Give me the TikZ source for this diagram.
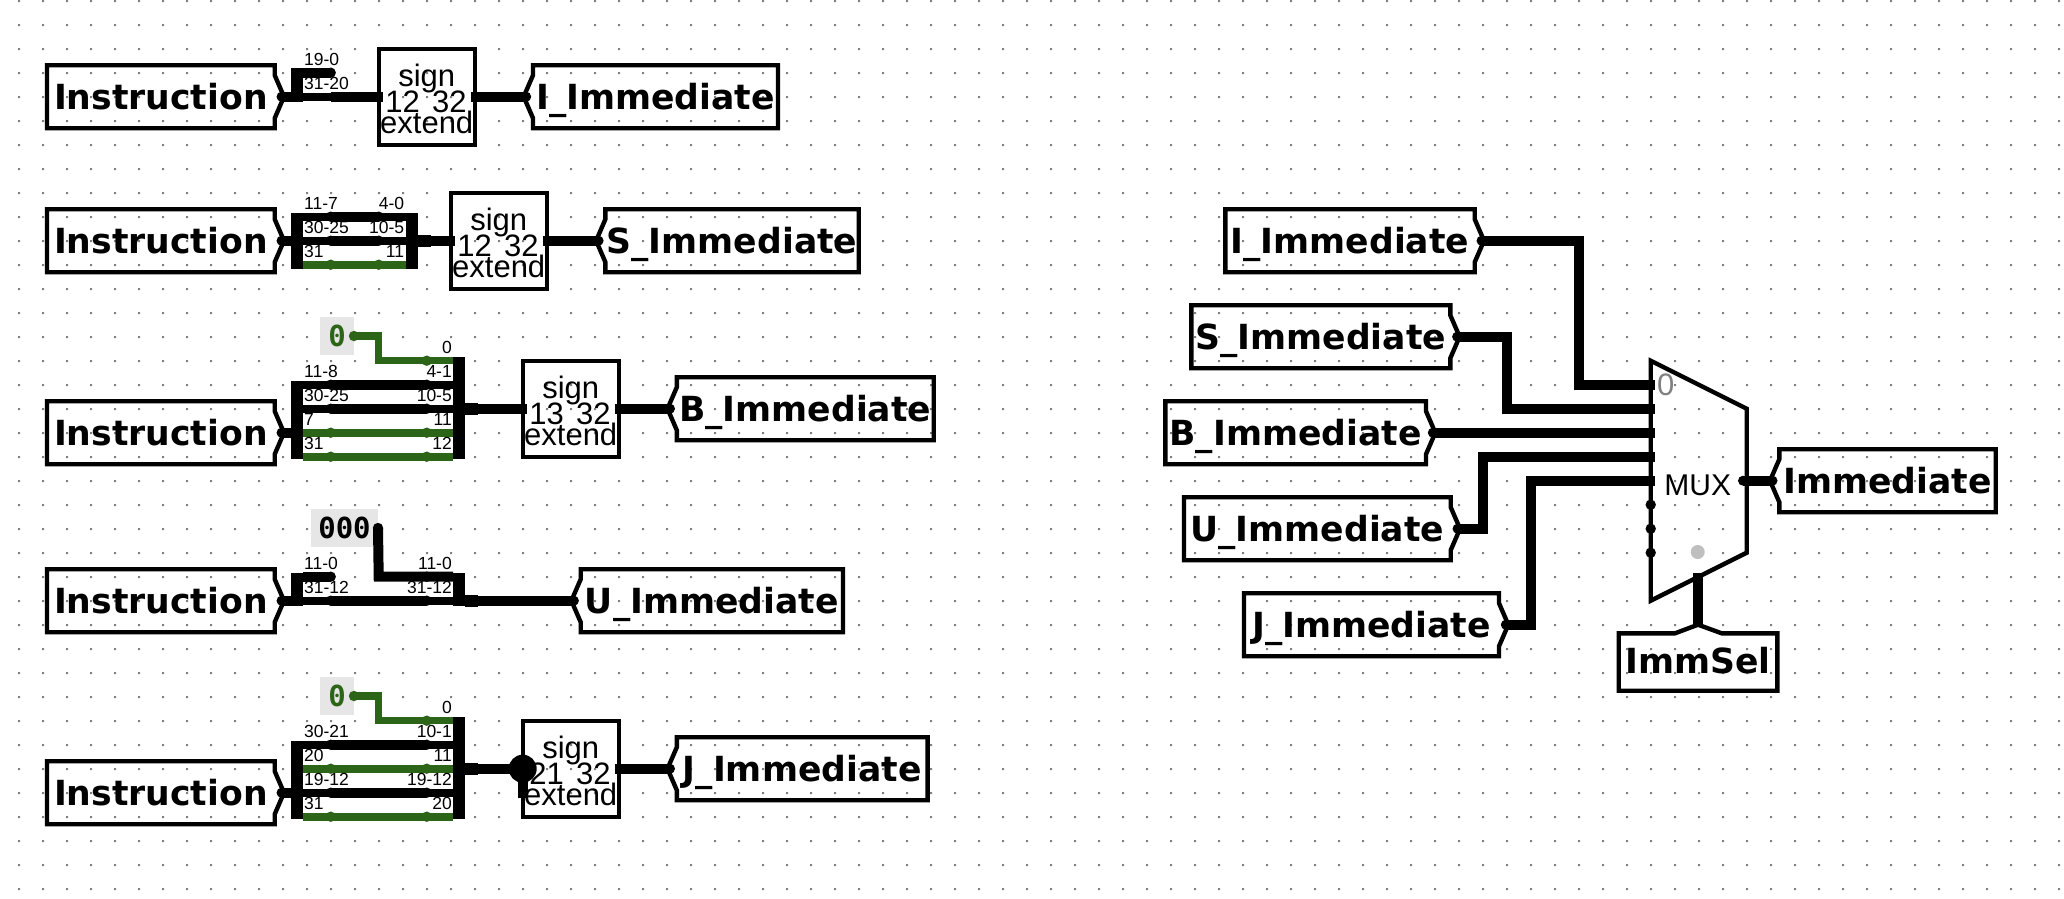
\documentclass[tikz,border=0pt]{standalone}
\usepackage{fontspec}
\setmainfont{Liberation Sans}
\newfontfamily\tagfamily{DejaVu Sans}
\newfontfamily\constfamily{DejaVu Sans Mono}
\definecolor{wiregreen}{HTML}{2C6418}
\definecolor{griddot}{HTML}{808080}
\definecolor{constgray}{HTML}{E6E6E6}
\tikzset{
  wire/.style={line width=10pt,color=black},
  gwire/.style={line width=7.5pt,color=wiregreen},
  stub/.style={line width=8pt},
  stubout/.style={line width=12pt},
  tagline/.style={line width=4.4pt,line join=miter},
  tagbox/.style={inner sep=0pt,outer sep=0pt,minimum height=63pt,text height=26pt,text depth=0pt,
    font=\tagfamily\bfseries\fontsize{34.6}{40}\selectfont},
  signbox/.style={draw,line width=4.4pt,inner sep=0pt,outer sep=0pt,minimum width=96pt,minimum height=96pt},
  signtxt/.style={anchor=base,inner sep=0pt,font=\fontsize{31}{36}\selectfont},
  splitbar/.style={fill=black,inner sep=0pt,outer sep=0pt,minimum width=12pt},
  bitl/.style={inner sep=0pt,font=\fontsize{17.5}{20}\selectfont},
  constbox/.style={fill=constgray,inner sep=0pt,outer sep=0pt,minimum height=38pt,
    font=\constfamily\bfseries\fontsize{29}{32}\selectfont},
}
\newcommand{\tagright}[5]{%
  \node[tagbox,minimum width={#3pt-#2pt}] (#1) at ({(#2+#3)/2},#4) {#5};
  \coordinate (#1tip) at ([xshift=9.3pt]#1.east);
  \draw[tagline] (#1.north west) -- (#1.north east) -- ++(0,10) -- (#1tip) -- ++(-9.3,21.5) -- (#1.south east) -- (#1.south west) -- cycle;
  \fill ([xshift=-2.5pt]#1tip) circle (5);
}
\newcommand{\tagleft}[5]{%
  \node[tagbox,minimum width={#3pt-#2pt}] (#1) at ({(#2+#3)/2},#4) {#5};
  \coordinate (#1tip) at ([xshift=-9.3pt]#1.west);
  \draw[tagline] (#1.north east) -- (#1.north west) -- ++(0,10) -- (#1tip) -- ++(9.3,21.5) -- (#1.south west) -- (#1.south east) -- cycle;
  \fill ([xshift=2.5pt]#1tip) circle (5);
}
\newcommand{\signext}[4]{%
  \node[signbox] (#1) at (#2,#3) {};
  \node[signtxt] (#1s) at ([yshift=10.7pt]#1.center) {sign};
  \node[signtxt] (#1i) at ([xshift=-24pt,yshift=-16pt]#1.center) {#4};
  \node[signtxt] (#1o) at ([xshift=22.6pt,yshift=-16pt]#1.center) {32};
  \node[signtxt] (#1e) at ([yshift=-36.6pt]#1.center) {extend};
}
\newcommand{\splitwire}[6]{%
  \draw[#6,stub] (#1.east |- 0,#5) -- (#2.west |- 0,#5);
  \draw[#6] (#3,#5) -- (#4,#5);
  \fill[#6] (#3,#5) circle (5.2) (#4,#5) circle (5.2);
}
\begin{document}
\begin{tikzpicture}[x=1pt,y=-1pt]
  \useasboundingbox (0,0) rectangle (2064,898);
  \fill[white] (0,0) rectangle (2064,898);
  % grid
  \fill[griddot] \foreach \i in {0,...,85} { \foreach \j in {0,...,37} {
    ({18+24*\i},{24*\j}) rectangle ++(2,2) } };

  % instruction tags
  \tagright{insa}{47}{274.7}{96.7}{Instruction}
  \tagright{insb}{47}{274.7}{240.7}{Instruction}
  \tagright{insc}{47}{274.7}{432.7}{Instruction}
  \tagright{insd}{47}{274.7}{600.7}{Instruction}
  \tagright{inse}{47}{274.7}{792.7}{Instruction}

  % output tags
  \tagleft{iimm}{533}{778}{96.7}{I\_Immediate}
  \tagleft{simm}{605.4}{858.7}{240.7}{S\_Immediate}
  \tagleft{bimm}{676.8}{933.7}{408.7}{B\_Immediate}
  \tagleft{uimm}{580.7}{843}{600.7}{U\_Immediate}
  \tagleft{jimm}{676.8}{927.6}{768.7}{J\_Immediate}

  % sign extenders
  \signext{sexi}{426.7}{96.7}{12}
  \signext{sexs}{498.7}{240.7}{12}
  \signext{sexb}{570.7}{408.7}{13}
  \signext{sexj}{570.7}{768.7}{21}

  % splitters
  \node[splitbar,minimum height=33.4pt] (spia) at (296.7,85) {};
  \node[splitbar,minimum height=56pt] (spsa) at (297,240.7) {};
  \node[splitbar,minimum height=56pt] (spsb) at (411.5,240.7) {};
  \node[splitbar,minimum height=78.6pt] (spba) at (297,420) {};
  \node[splitbar,minimum height=102.6pt] (spbb) at (459,408) {};
  \node[splitbar,minimum height=33.4pt] (spua) at (297,589.3) {};
  \node[splitbar,minimum height=33.4pt] (spub) at (459,589.3) {};
  \node[splitbar,minimum height=78.6pt] (spja) at (297,780) {};
  \node[splitbar,minimum height=102.6pt] (spjb) at (459,768) {};

  % constants
  \node[constbox,minimum width=34pt,text=wiregreen] (cstb) at (337,336) {0};
  \node[constbox,minimum width=67pt] (cstu) at (344.5,528) {000};
  \node[constbox,minimum width=34pt,text=wiregreen] (cstj) at (337,696) {0};

  % row I
  \coordinate (pia) at (330.7,96.7);
  \coordinate (pib) at (330.7,72.7);
  \draw[wire] (insatip) -- (spia.west |- insatip);
  \draw[wire] (spia.east |- pib) -- (pib);
  \fill (pib) circle (5.2);
  \draw[stub] (spia.east |- pia) -- (pia);
  \draw[wire] (pia) -- ([xshift=4pt]sexi.west);
  \draw[wire] ([xshift=-4pt]sexi.east) -- (iimmtip);

  % row S
  \draw[wire] (insbtip) -- (spsa.west |- insbtip);
  \splitwire{spsa}{spsb}{330.7}{378.7}{216.7}{wire}
  \splitwire{spsa}{spsb}{330.7}{378.7}{240.7}{wire}
  \splitwire{spsa}{spsb}{330.7}{378.7}{264.7}{gwire}
  \draw[stubout] (spsb.east) -- ++(13,0);
  \draw[wire] (spsb.east) -- ([xshift=4pt]sexs.west);
  \draw[wire] ([xshift=-4pt]sexs.east) -- (simmtip);

  % row B
  \draw[wire] (insctip) -- (spba.west |- insctip);
  \splitwire{spba}{spbb}{330.7}{426.7}{384.7}{wire}
  \splitwire{spba}{spbb}{330.7}{426.7}{408.7}{wire}
  \splitwire{spba}{spbb}{330.7}{426.7}{432.7}{gwire}
  \splitwire{spba}{spbb}{330.7}{426.7}{456.7}{gwire}
  \draw[gwire] (cstb.east) -- (378.7,336) -- (378.7,360.7) -- (spbb.west |- 0,360.7);
  \fill[gwire] (cstb.east) circle (5.2) (426.7,360.7) circle (5.2);
  \draw[stubout] (spbb.east |- sexb) -- ++(13,0);
  \draw[wire] (spbb.east |- sexb) -- ([xshift=4pt]sexb.west);
  \draw[wire] ([xshift=-4pt]sexb.east) -- (bimmtip);

  % row U
  \coordinate (pua) at (330.7,576.7);
  \draw[wire] (insdtip) -- (spua.west |- insdtip);
  \draw[wire] (spua.east |- pua) -- (pua);
  \fill (pua) circle (5.2);
  \splitwire{spua}{spub}{330.7}{426.7}{600.7}{wire}
  \draw[wire] (cstu.east) -- (378.7,576.7) -- (spub.west |- pua);
  \fill (cstu.east) circle (5.2) (426.7,576.7) circle (5.2);
  \draw[stubout] (spub.east |- uimm) -- ++(13,0);
  \draw[wire] (spub.east |- uimm) -- (uimmtip);

  % row J
  \draw[wire] (insetip) -- (spja.west |- insetip);
  \splitwire{spja}{spjb}{330.7}{426.7}{744.7}{wire}
  \splitwire{spja}{spjb}{330.7}{426.7}{768.7}{gwire}
  \splitwire{spja}{spjb}{330.7}{426.7}{792.7}{wire}
  \splitwire{spja}{spjb}{330.7}{426.7}{816.7}{gwire}
  \draw[gwire] (cstj.east) -- (378.7,696) -- (378.7,720.7) -- (spjb.west |- 0,720.7);
  \fill[gwire] (cstj.east) circle (5.2) (426.7,720.7) circle (5.2);
  \draw[stubout] (spjb.east |- sexj) -- ++(13,0);
  \draw[wire] (spjb.east |- sexj) -- (sexj.west);
  \fill (sexj.west) circle (14);
  \draw[wire] (sexj.west) -- ++(0,29);
  \draw[wire] ([xshift=-4pt]sexj.east) -- (jimmtip);

  % bit labels
  \foreach \t/\x/\y/\a [count=\n] in {
    19-0/304/65/west, 31-20/304/89.3/west,
    11-7/304/209/west, 4-0/404.3/209/east, 30-25/304/233/west, 10-5/404.3/233/east, 31/304/257/west, 11/404.3/257/east,
    0/452/353/east, 11-8/304/377/west, 4-1/452/377/east, 30-25/304/401/west, 10-5/452/401/east, 7/304/425/west, 11/452/425/east, 31/304/449/west, 12/452/449/east,
    11-0/304/569/west, 11-0/452/569/east, 31-12/304/593/west, 31-12/452/593/east,
    0/452/713/east, 30-21/304/737/west, 10-1/452/737/east, 20/304/761/west, 11/452/761/east, 19-12/304/785/west, 19-12/452/785/east, 31/304/809/west, 20/452/809/east}
    {\node[bitl,anchor=base \a] (bit\n) at (\x,\y) {\t};}

  % right side tags
  \tagright{ione}{1225.3}{1474.7}{240.7}{I\_Immediate}
  \tagright{sone}{1191.3}{1450.3}{336.7}{S\_Immediate}
  \tagright{bone}{1165.3}{1426}{432.7}{B\_Immediate}
  \tagright{uone}{1184}{1450.7}{528.7}{U\_Immediate}
  \tagright{jone}{1244}{1499}{624.7}{J\_Immediate}
  \tagleft{immout}{1779.3}{1995.7}{480.7}{Immediate}
  \node[tagbox,minimum width=158.6pt,minimum height=57.4pt,text height=22.6pt] (immsel) at (1698,662) {ImmSel};
  \coordinate (immseltip) at (1698,624.7);
  \draw[tagline] (immsel.north west) -- (1675,633.3) -- (immseltip) -- (1721.7,633.3) -- (immsel.north east) -- (immsel.south east) -- (immsel.south west) -- cycle;

  % mux
  \draw[tagline] (1650.7,360.7) -- (1746.7,408.7) -- (1746.7,552.7) -- (1650.7,600.7) -- cycle;
  \node[inner sep=0pt,font=\fontsize{30}{34}\selectfont] (mux) at (1697.7,485.7) {MUX};
  \node[inner sep=0pt,text=gray,font=\fontsize{31}{36}\selectfont] (muxz) at (1665.7,385) {0};
  \coordinate (mia) at (1655,384.7);
  \coordinate (mib) at (1655,408.7);
  \coordinate (mic) at (1655,432.7);
  \coordinate (mid) at (1655,456.7);
  \coordinate (mie) at (1655,480.7);
  \coordinate (mout) at (1743,480.7);
  \coordinate (msel) at (1698,573);
  \foreach \y in {504.7,528.7,552.7} {\fill (1650.7,\y) circle (5.2);}
  \fill (mout) circle (5);
  \fill[black!25] (1697.7,552) circle (7);
  \draw[wire] (ionetip) -| (1578.7,384.7) -- (mia);
  \draw[wire] (sonetip) -| (1506.7,408.7) -- (mib);
  \draw[wire] (bonetip) -- (mic);
  \draw[wire] (uonetip) -| (1482.7,456.7) -- (mid);
  \draw[wire] (jonetip) -| (1530.7,480.7) -- (mie);
  \draw[wire] (mout) -- (immouttip);
  \draw[wire] (immseltip) -- (msel);
\end{tikzpicture}
\end{document}
